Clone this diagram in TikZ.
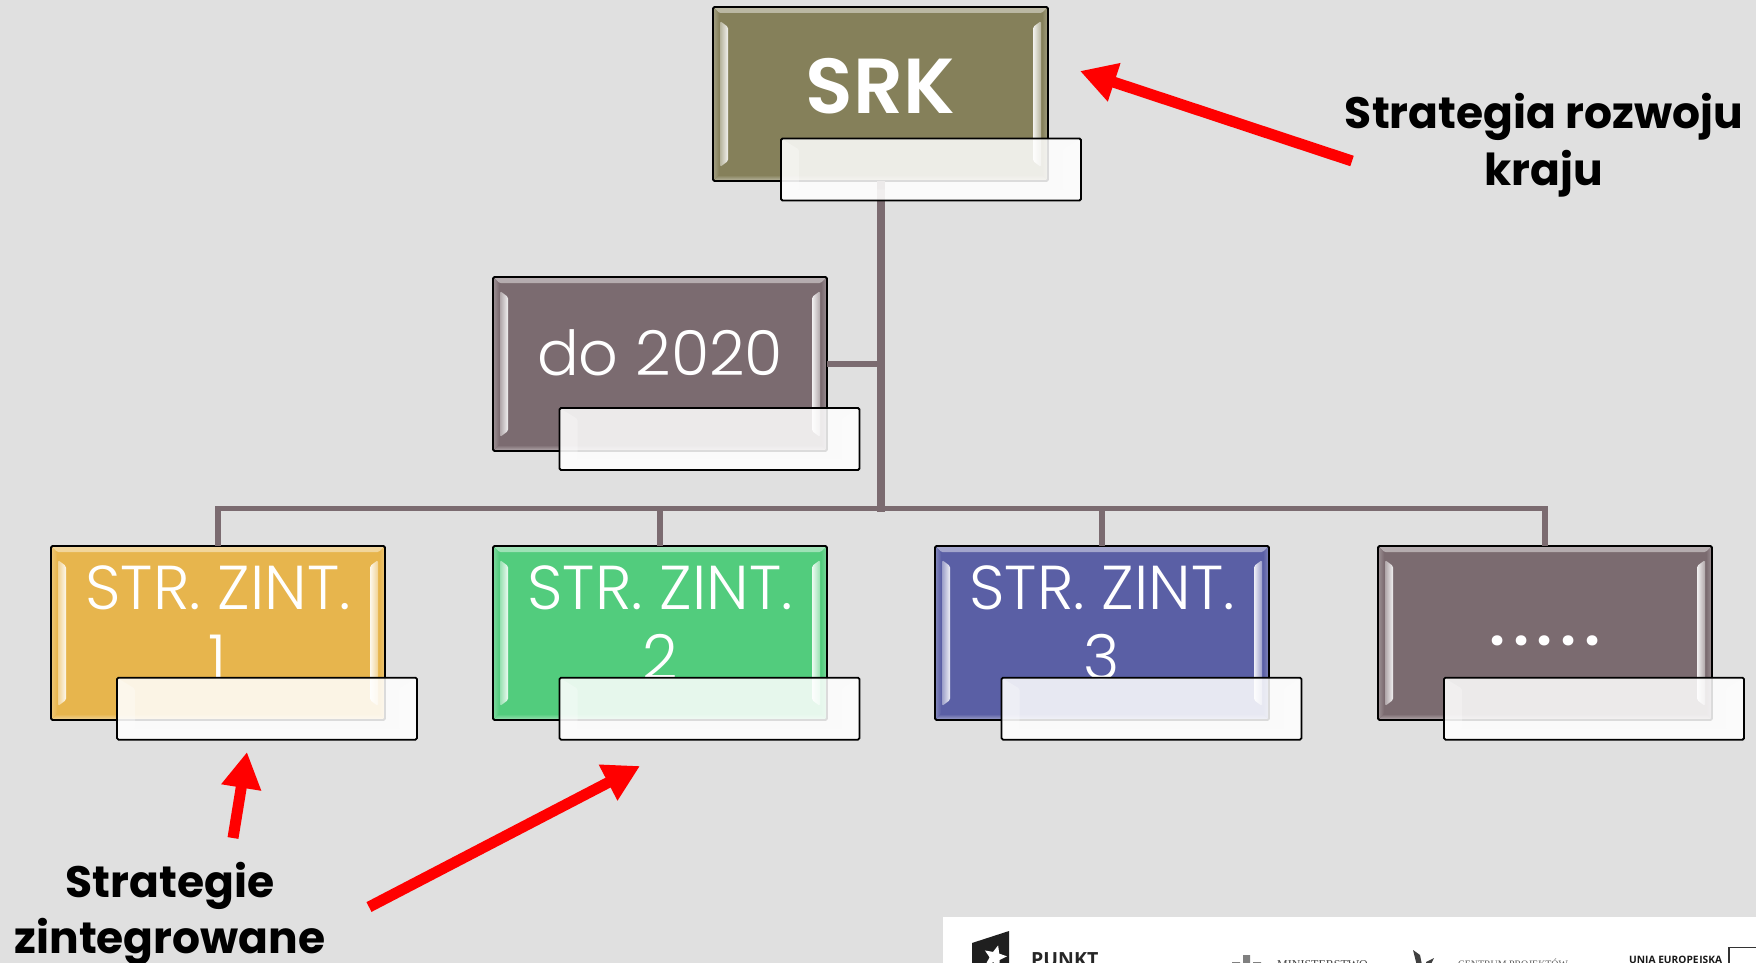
\documentclass[tikz,border=0pt]{standalone}
\usepackage{fontspec}
\usetikzlibrary{arrows.meta,shapes.geometric}
\newfontfamily\boxfont[UprightFont=* Light,BoldFont=* SemiBold]{Poppins}
\newfontfamily\headfont[BoldFont=* Bold]{Poppins}
\newfontfamily\logosans{Open Sans}
\newfontfamily\logoserif{Liberation Serif}
\definecolor{bgc}{HTML}{E0E0E0}
\definecolor{conn}{HTML}{7B6B70}
\definecolor{olive}{HTML}{85805A}
\definecolor{mauve}{HTML}{7B6B70}
\definecolor{gold}{HTML}{E7B54D}
\definecolor{leaf}{HTML}{52CC7D}
\definecolor{indigo}{HTML}{5A5FA5}
\newcommand{\bline}[3][62pt]{\makebox[0pt][c]{\raisebox{#2}[0pt][0pt]{\fontsize{#1}{#1}\selectfont #3}}}
\newcommand{\wdot}{.\kern7.5pt}
\tikzset{
  x=1pt,y=-1pt,
  mainbox/.style n args={3}{draw=black,line width=1.8pt,rounded corners=1.5pt,fill=#1,
    minimum width=#2,minimum height=#3,inner sep=0pt,outer sep=0pt,text=white,
    text height=0pt,text depth=0pt,font=\boxfont,
    path picture={
        \pgfmathsetmacro{\hw}{#2/2}\pgfmathsetmacro{\hh}{#3/2}
        \pgfmathsetmacro{\iw}{\hw-6}\pgfmathsetmacro{\ih}{\hh-6}
        \pgfmathsetmacro{\sw}{\hw-15}\pgfmathsetmacro{\sw}{\hw-15}\pgfmathsetmacro{\sx}{\hw-7}\pgfmathsetmacro{\sa}{\hh-14}\pgfmathsetmacro{\sb}{\hh-20}
        \shade[top color=#1!55!white,bottom color=#1] (-\hw,-\hh)--(\hw,-\hh)--(\iw,-\ih)--(-\iw,-\ih)--cycle;
        \shade[top color=#1,bottom color=#1!55!white] (-\hw,\hh)--(\hw,\hh)--(\iw,\ih)--(-\iw,\ih)--cycle;
        \shade[left color=#1!75!white,right color=#1] (-\hw,-\hh)--(-\iw,-\ih)--(-\iw,\ih)--(-\hw,\hh)--cycle;
        \shade[left color=#1,right color=#1!75!white] (\hw,-\hh)--(\iw,-\ih)--(\iw,\ih)--(\hw,\hh)--cycle;
        \shade[left color=#1!60!white,right color=#1!10!white] (-\sx,-\sa)--(-\sw,-\sb)--(-\sw,\sb)--(-\sx,\sa)--cycle;
        \shade[left color=#1!10!white,right color=#1!60!white] (\sx,-\sa)--(\sw,-\sb)--(\sw,\sb)--(\sx,\sa)--cycle;
      }},
  labelbox/.style={draw=black,line width=1.8pt,rounded corners=1.5pt,fill=white,fill opacity=.86,
    minimum width=300pt,minimum height=62pt,inner sep=0pt,outer sep=0pt,
    path picture={
      \fill[white,fill opacity=.28] (-150,-31)--(-132,-20)--(-132,20)--(-150,31)--cycle
        (150,-31)--(132,-20)--(132,20)--(150,31)--cycle
        (-150,31)--(150,31)--(132,20)--(-132,20)--cycle;}},
  connector/.style={draw=conn,line width=5.5pt},
  trunk/.style={draw=conn,line width=8pt},
  redarrow/.style={draw=red,line width=11pt,-{Triangle[length=36pt,width=38pt]}},
  headtext/.style={font=\headfont\bfseries\fontsize{44pt}{56pt}\selectfont,text=black,align=center,inner sep=0pt},
}
\begin{document}
\begin{tikzpicture}
\useasboundingbox (0,0) rectangle (1756,963);
\fill[bgc] (0,0) rectangle (1756,963);

\coordinate (bus) at (880.5,508.5);
\coordinate (aTailA) at (1352,161);
\coordinate (aTipA) at (1080,71);
\coordinate (aTailB) at (233,838);
\coordinate (aTipB) at (247,752);
\coordinate (aTailC) at (369,907);
\coordinate (aTipC) at (640,766);

% boxes
\node[mainbox={olive}{335}{174}] (srk) at (880.5,94) {\bline[78pt]{-19.5pt}{\bfseries SRK}};
\node[mainbox={mauve}{334}{174}] (do) at (660,364) {\bline{-11pt}{do 2020}};
\node[mainbox={gold}{334}{174}] (z1) at (218,633) {\bline{24pt}{STR. ZINT.}\bline{-46pt}{1}};
\node[mainbox={leaf}{334}{174}] (z2) at (660,633) {\bline{24pt}{STR. ZINT.}\bline{-46pt}{2}};
\node[mainbox={indigo}{334}{174}] (z3) at (1102,633) {\bline{24pt}{STR. ZINT.}\bline{-46pt}{3}};
\node[mainbox={mauve}{334}{174}] (z4) at (1545,633) {\bline{-12pt}{\bfseries\wdot\wdot\wdot\wdot.}};

% connectors
\draw[trunk] (srk.south) -- ([yshift=-3pt]bus);
\draw[connector] (do.east) -- (do.east -| bus);
\draw[connector] (z1.north) |- (bus);
\draw[connector] (z2.north) |- (bus);
\draw[connector] (z3.north) |- (bus);
\draw[connector] (z4.north) |- (bus);

% labels
\node[labelbox] (srkL) at (931,169.5) {};
\node[labelbox] (doL) at (709.5,439) {};
\node[labelbox] (z1L) at (267,708.7) {};
\node[labelbox] (z2L) at (709.5,708.7) {};
\node[labelbox] (z3L) at (1151.5,708.7) {};
\node[labelbox] (z4L) at (1594,708.7) {};

% red arrows
\draw[redarrow] (aTailA) -- (aTipA);
\draw[redarrow] (aTailB) -- (aTipB);
\draw[redarrow] (aTailC) -- (aTipC);

% captions
\node[headtext,anchor=base] (capA) at (1544,185) {Strategia rozwoju\\kraju};
\node[headtext,anchor=base] (capB) at (170,953) {Strategie\\zintegrowane};

% logo band
\begin{scope}
\clip (943,917) rectangle (1756,963);
\fill[white] (943,917) rectangle (1756,963);
\fill[black!88] (972,943) -- (1009,931) -- (1009,970) -- (972,970) -- cycle;
\node[star,star points=5,star point ratio=2.2,fill=white,minimum size=24pt,inner sep=0pt,rotate=-15] (logoStar) at (995,957) {};
\node[anchor=base west,inner sep=0pt,font=\logosans\bfseries\fontsize{19.5pt}{19.5pt}\selectfont,text=black!85] (punkt) at (1031,966) {PUNKT};
\fill[black!50] (1232,962) rectangle (1240,970) (1243,955) rectangle (1250,970) (1253,962) rectangle (1261,970);
\node[anchor=base west,inner sep=0pt,font=\logoserif\fontsize{12pt}{12pt}\selectfont,text=black!75] (minist) at (1277,968) {MINISTERSTWO};
\fill[black!75] (1413,950) -- (1420,955) -- (1423,970) -- (1418,970) -- cycle (1426,962) -- (1434,958) -- (1428,970) -- cycle;
\node[anchor=base west,inner sep=0pt,font=\logoserif\fontsize{9.9pt}{9.9pt}\selectfont,text=black!65] (centrum) at (1458,967) {CENTRUM PROJEKTÓW};
\node[anchor=base west,inner sep=0pt,font=\logosans\bfseries\fontsize{10.2pt}{10.2pt}\selectfont,text=black!90] (unia) at (1629,963.5) {UNIA EUROPEJSKA};
\draw[black!80,line width=1.3pt] (1729,975) -- (1729,947.5) -- (1770,947.5);
\end{scope}
\end{tikzpicture}
\end{document}
